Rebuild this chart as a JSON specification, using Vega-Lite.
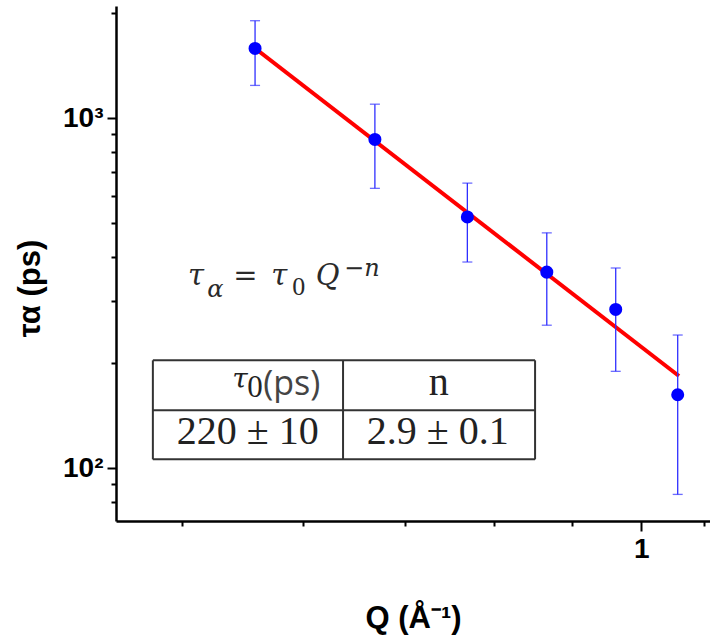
{
  "$schema": "https://vega.github.io/schema/vega-lite/v6.json",
  "width": 594,
  "height": 515,
  "autosize": {"type": "none"},
  "padding": {"left": 116, "top": 6, "right": 0, "bottom": 118},
  "background": "white",
  "config": {"view": {"stroke": null}},
  "datasets": {
    "points": [
      {"q": 0.5581, "tau": 1582, "lo": 1240, "hi": 1898},
      {"q": 0.6688, "tau": 869, "lo": 630, "hi": 1096},
      {"q": 0.7690, "tau": 522, "lo": 388, "hi": 652},
      {"q": 0.8670, "tau": 363, "lo": 256, "hi": 470},
      {"q": 0.9621, "tau": 284, "lo": 189, "hi": 373},
      {"q": 1.0565, "tau": 162, "lo": 84.1, "hi": 240}
    ],
    "fit": [
      {"q": 0.5581, "tau": 1582},
      {"q": 1.0585, "tau": 183.3}
    ],
    "table_lines": [
      {"q": 0.4783, "q2": 0.8518, "tau": 203.2, "tau2": 203.2},
      {"q": 0.4783, "q2": 0.8518, "tau": 146.2, "tau2": 146.2},
      {"q": 0.4783, "q2": 0.8518, "tau": 105.9, "tau2": 105.9},
      {"q": 0.4783, "q2": 0.4783, "tau": 105.9, "tau2": 203.2},
      {"q": 0.6374, "q2": 0.6374, "tau": 105.9, "tau2": 203.2},
      {"q": 0.8518, "q2": 0.8518, "tau": 105.9, "tau2": 203.2}
    ]
  },
  "encoding": {
    "x": {
      "field": "q", "type": "quantitative",
      "scale": {"type": "log", "domain": [0.4524, 1.1093], "nice": false, "zero": false},
      "axis": {
        "values": [0.5, 0.6, 0.7, 0.8, 0.9, 1, 1.1],
        "labelExpr": "datum.value == 1 ? '1' : ''",
        "grid": false,
        "tickSize": {"condition": {"test": "datum.value == 1", "value": 10}, "value": 5},
        "tickWidth": 2,
        "tickColor": "black",
        "domainColor": "black",
        "domainWidth": 2.5,
        "labelFont": "Liberation Sans",
        "labelFontSize": 28,
        "labelFontWeight": "bold",
        "labelColor": "black",
        "labelPadding": 4,
        "labelFlush": false,
        "labelOverlap": false,
        "title": "Q (Å⁻¹)",
        "titleFont": "Liberation Sans",
        "titleFontSize": 31,
        "titleFontWeight": "bold",
        "titleColor": "black",
        "titlePadding": 40
      }
    },
    "y": {
      "field": "tau", "type": "quantitative",
      "scale": {"type": "log", "domain": [70.6, 2091], "nice": false, "zero": false},
      "axis": {
        "values": [80, 90, 100, 200, 300, 400, 500, 600, 700, 800, 900, 1000, 2000],
        "labelExpr": "datum.value == 100 ? '10²' : datum.value == 1000 ? '10³' : ''",
        "grid": false,
        "tickSize": {"condition": {"test": "datum.value == 100 || datum.value == 1000", "value": 9}, "value": 5},
        "tickWidth": 2,
        "tickColor": "black",
        "domainColor": "black",
        "domainWidth": 2.5,
        "labelFont": "Liberation Sans",
        "labelFontSize": 28,
        "labelFontWeight": "bold",
        "labelColor": "black",
        "labelPadding": 4,
        "labelOverlap": false,
        "labelFlush": false,
        "title": "τα   (ps)",
        "titleFont": "Liberation Sans",
        "titleFontSize": 31,
        "titleFontWeight": "bold",
        "titleColor": "black",
        "titleY": 282,
        "titlePadding": 16
      }
    }
  },
  "layer": [
    {
      "data": {"name": "table_lines"},
      "mark": {"type": "rule", "color": "#333333", "strokeWidth": 2},
      "encoding": {
        "x2": {"field": "q2"},
        "y2": {"field": "tau2"}
      }
    },
    {
      "data": {"name": "fit"},
      "mark": {"type": "line", "color": "#ff0000", "strokeWidth": 4},
      "encoding": {}
    },
    {
      "data": {"name": "points"},
      "mark": {"type": "errorbar", "ticks": true, "size": 10, "thickness": 1.3, "color": "#2f2fff"},
      "encoding": {
        "y": {"field": "lo", "type": "quantitative"},
        "y2": {"field": "hi"}
      }
    },
    {
      "data": {"name": "points"},
      "mark": {"type": "circle", "size": 170, "color": "#0000ff", "opacity": 1},
      "encoding": {}
    },
    {
      "data": {"values": [
        {"q": 0.5044, "tau": 333, "label": "τ"},
        {"q": 0.5400, "tau": 333, "label": "="},
        {"q": 0.5719, "tau": 333, "label": "τ"},
        {"q": 0.6117, "tau": 333, "label": "Q"}
      ]},
      "mark": {"type": "text", "font": "DejaVu Serif", "fontStyle": "italic", "fontSize": 29, "align": "left", "baseline": "alphabetic", "color": "#2a2a2a"},
      "encoding": {"text": {"field": "label"}}
    },
    {
      "data": {"values": [
        {"q": 0.5192, "tau": 307.7, "label": "α"},
        {"q": 0.6384, "tau": 353.4, "label": "−n"}
      ]},
      "mark": {"type": "text", "font": "DejaVu Serif", "fontStyle": "italic", "fontSize": 24, "align": "left", "baseline": "alphabetic", "color": "#2a2a2a"},
      "encoding": {"text": {"field": "label"}}
    },
    {
      "data": {"values": [
        {"q": 0.5903, "tau": 311.8, "label": "0"}
      ]},
      "mark": {"type": "text", "font": "Liberation Serif", "fontSize": 26, "align": "left", "baseline": "alphabetic", "color": "#2a2a2a"},
      "encoding": {"text": {"field": "label"}}
    },
    {
      "data": {"values": [
        {"q": 0.7365, "tau": 161.4, "label": "n"},
        {"q": 0.5520, "tau": 116.9, "label": "220 ± 10"},
        {"q": 0.7354, "tau": 116.9, "label": "2.9 ± 0.1"}
      ]},
      "mark": {"type": "text", "font": "Liberation Serif", "fontSize": 40, "align": "center", "baseline": "alphabetic", "color": "#222222"},
      "encoding": {"text": {"field": "label"}}
    },
    {
      "data": {"values": [
        {"q": 0.5392, "tau": 169.0, "label": "τ"}
      ]},
      "mark": {"type": "text", "font": "DejaVu Serif", "fontStyle": "italic", "fontSize": 28, "align": "left", "baseline": "alphabetic", "color": "#222222"},
      "encoding": {"text": {"field": "label"}}
    },
    {
      "data": {"values": [
        {"q": 0.5516, "tau": 159.3, "label": "0"}
      ]},
      "mark": {"type": "text", "font": "Liberation Serif", "fontSize": 31, "align": "left", "baseline": "alphabetic", "color": "#222222"},
      "encoding": {"text": {"field": "label"}}
    },
    {
      "data": {"values": [
        {"q": 0.5650, "tau": 161.4, "label": "(ps)"}
      ]},
      "mark": {"type": "text", "font": "Open Sans", "fontSize": 34, "align": "left", "baseline": "alphabetic", "color": "#444444"},
      "encoding": {"text": {"field": "label"}}
    }
  ]
}
